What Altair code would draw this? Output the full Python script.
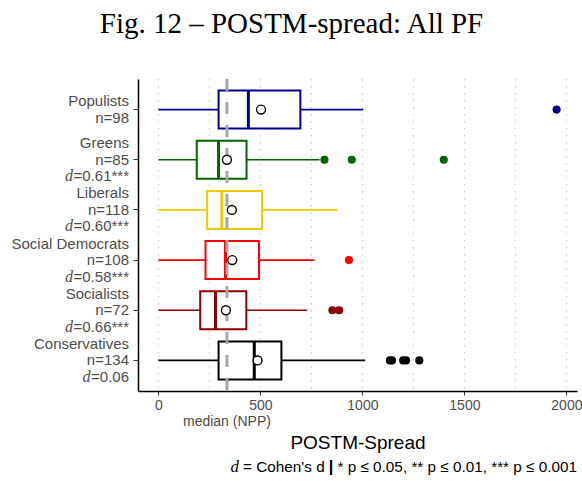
import altair as alt
import pandas as pd

# ---------------- data ----------------
parties = ["Populists", "Greens", "Liberals", "Social Democrats", "Socialists", "Conservatives"]
n_obs = [98, 85, 118, 108, 72, 134]
cohen_d = [None, 0.61, 0.60, 0.58, 0.66, 0.06]
signif = ["", "***", "***", "***", "***", ""]
colors = ["#00008B", "#006400", "#EEC900", "#FF0000", "#8B0000", "#000000"]

whisker_lo = [0, 0, 0, 0, 0, 0]
q1 = [295, 188, 239, 231, 205, 295]
median = [441, 295, 311, 329, 280, 470]
q3 = [696, 432, 508, 493, 431, 603]
whisker_hi = [1004, 790, 876, 765, 729, 1014]
means = [503, 336, 360, 362, 331, 486]

outlier_party = ["Populists", "Greens", "Greens", "Greens", "Social Democrats",
                 "Socialists", "Socialists", "Conservatives", "Conservatives",
                 "Conservatives", "Conservatives", "Conservatives"]
outlier_value = [1952, 814, 948, 1399, 934, 853, 886, 1135, 1145, 1200, 1214, 1279]

npp_median = [336]
x_ticks = [0, 500, 1000, 1500, 2000]
grid_values = list(range(0, 2001, 250))

# ---------------- layout ----------------
SANS = "Liberation Sans"
SERIF = "Liberation Serif"
W, H = 439, 312
LEFT, TOP = 138, 79
LAB_SIZE = 15
LH = 16.5
GREY = "#4D4D4D"
PAD_OUTER = 0.11
STEP = H / (len(parties) + 2 * PAD_OUTER)

AW = {' ': 278, '=': 584, '.': 278, ',': 278, '*': 389, '|': 280, '≤': 549,
      "'": 191, 'C': 722, 's': 500}


def text_width(s, size):
    return sum(AW.get(c, 556) for c in s) * size / 1000.0


box_df = pd.DataFrame(dict(party=parties, lo=whisker_lo, q1=q1, med=median,
                           q3=q3, hi=whisker_hi, mean=means))
out_df = pd.DataFrame(dict(party=outlier_party, value=outlier_value))
npp_df = pd.DataFrame(dict(v=npp_median))
grid_df = pd.DataFrame(dict(g=grid_values))

xscale = alt.Scale(domain=[-100, 2052], nice=False, zero=False)
xaxis = alt.Axis(values=x_ticks, grid=False, format="d",
                 labelFontSize=14, labelColor=GREY, labelFont=SANS, labelPadding=3,
                 tickSize=4, tickColor="#333333", domainColor="black", domainWidth=1.5,
                 titleFontSize=19, titleFont=SANS, titleFontWeight="normal",
                 titleColor="black", titleY=51, titleBaseline="middle")
yscale = alt.Scale(type="band", domain=parties, paddingInner=0, paddingOuter=PAD_OUTER)
yaxis = alt.Axis(labels=False, ticks=True, tickSize=5, tickColor="#333333",
                 domainColor="black", domainWidth=1.5, grid=False)


def X(field):
    return alt.X(f"{field}:Q", scale=xscale, axis=xaxis, title="POSTM-Spread")


Y = alt.Y("party:N", scale=yscale, axis=yaxis, title=None, sort=parties)
C = alt.Color("party:N", scale=alt.Scale(domain=parties, range=colors), legend=None)
S = alt.Stroke("party:N", scale=alt.Scale(domain=parties, range=colors), legend=None)

grid = alt.Chart(grid_df).mark_rule(color="#C4C4C4", strokeWidth=1,
                                    strokeDash=[1.5, 5.5]).encode(x=X("g"))

whisk = alt.Chart(box_df).mark_rule(strokeWidth=1.6).encode(
    x=X("lo"), x2="hi", y=Y, color=C)

boxes = alt.Chart(box_df).mark_bar(size=38, fill="white", strokeWidth=2,
                                   opacity=1).encode(x=X("q1"), x2="q3", y=Y, stroke=S)

meds = alt.Chart(box_df).mark_tick(size=38, thickness=3, opacity=1).encode(
    x=X("med"), y=Y, color=C)

npp = alt.Chart(npp_df).mark_rule(color="#A6A6A6", strokeWidth=3,
                                  strokeDash=[12, 11]).encode(x=X("v"))

npp_lab = alt.Chart(npp_df).mark_text(font=SANS, fontSize=14, color=GREY,
                                      baseline="middle").encode(
    x=X("v"), y=alt.value(422 - TOP), text=alt.value("median (NPP)"))

outs = alt.Chart(out_df).mark_circle(size=66, opacity=1).encode(
    x=X("value"), y=Y, color=C)

mean_pts = alt.Chart(box_df).mark_point(shape="circle", filled=True, fill="white",
                                        stroke="black", strokeWidth=1.4, size=80,
                                        opacity=1).encode(x=X("mean"), y=Y)

# ---------------- y labels ----------------
rows = []
d_rows = []
for i, p in enumerate(parties):
    lines = [p, f"n={n_obs[i]}"]
    if cohen_d[i] is not None:
        lines.append(f"={cohen_d[i]:.2f}{signif[i]}")
    k = len(lines)
    for j, t in enumerate(lines):
        # offset measured from the top of the band
        off = STEP / 2 + (j - (k - 1) / 2) * LH
        rows.append(dict(party=p, t=t, off=off))
        if j == 2:
            d_rows.append(dict(party=p, off=off, w=text_width(t, LAB_SIZE)))

lab_df = pd.DataFrame(rows)
lab_layer = alt.Chart(lab_df).mark_text(align="right", baseline="middle", font=SANS,
                                        fontSize=LAB_SIZE, color=GREY).encode(
    x=alt.value(-9), y=Y, yOffset=alt.YOffset("off:Q", scale=None), text="t:N")

d_layers = []
d_df = pd.DataFrame(d_rows)
for w, grp in d_df.groupby("w"):
    d_layers.append(
        alt.Chart(grp).mark_text(align="right", baseline="middle", font=SERIF,
                                 fontStyle="italic", fontSize=16, color=GREY).encode(
            x=alt.value(-9 - w - 0.5), y=Y,
            yOffset=alt.YOffset("off:Q", scale=None), text=alt.value("d")))


def annot(text, x, y, **kw):
    return alt.Chart(pd.DataFrame({"t": [text]})).mark_text(**kw).encode(
        text="t:N", x=alt.value(x), y=alt.value(y))


title = annot("Fig. 12 – POSTM-spread: All PF", 291.5 - LEFT, 33 - TOP,
              font=SERIF, fontSize=29, color="black", align="center",
              baseline="alphabetic")

# caption pieces, right aligned at the plot's right edge
CAP = 15.3
cy = 467 - TOP
p3 = "* p ≤ 0.05, ** p ≤ 0.01, *** p ≤ 0.001"
sp = text_width(" ", CAP)
x3 = W - text_width(p3, CAP)
xbar = x3 - sp
xp2 = xbar - text_width("|", CAP) - sp
p2 = "= Cohen's d"
xd = xp2 - text_width(p2, CAP) - sp
cap_layers = [
    annot(p3, W, cy, font=SANS, fontSize=CAP, color="black", align="right", baseline="middle"),
    annot("|", xbar, cy, font=SANS, fontSize=CAP + 1, fontWeight="bold", color="black",
          align="right", baseline="middle"),
    annot(p2, xp2, cy, font=SANS, fontSize=CAP, color="black", align="right", baseline="middle"),
    annot("d", xd, cy, font=SERIF, fontStyle="italic", fontSize=CAP + 1.5, color="black",
          align="right", baseline="middle"),
]

chart = alt.layer(
    grid, whisk, boxes, meds, npp, outs, mean_pts, npp_lab, lab_layer, *d_layers,
    title, *cap_layers
).properties(
    width=W, height=H,
    autosize=alt.AutoSizeParams(type="none"),
    padding={"left": LEFT, "top": TOP, "right": 582 - LEFT - W, "bottom": 481 - TOP - H},
).configure_view(stroke=None)

chart.save("out.html", embed_options={"renderer": "svg", "actions": False})
